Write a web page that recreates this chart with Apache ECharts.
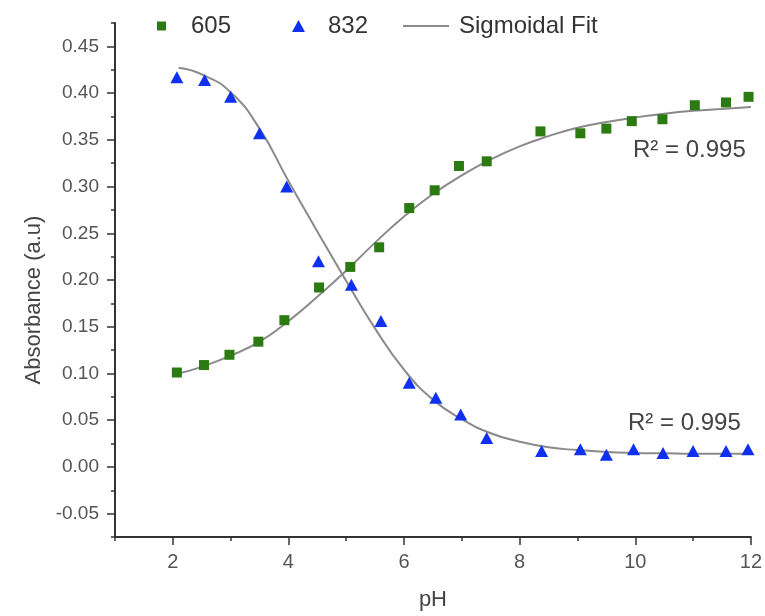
<!DOCTYPE html>
<html><head><meta charset="utf-8">
<script src="https://cdn.jsdelivr.net/npm/echarts@6/dist/echarts.min.js"></script>
<style>html,body{margin:0;padding:0;background:#fff}#c{width:765px;height:616px}</style>
</head><body><div id="c"></div>
<script>
// measured data (pH vs absorbance)
const pH605  = [2.07,2.54,2.98,3.48,3.93,4.53,5.07,5.57,6.09,6.53,6.95,7.43,8.36,9.05,9.50,9.94,10.47,11.03,11.57,11.96];
const abs605 = [0.101,0.109,0.120,0.134,0.157,0.192,0.214,0.235,0.277,0.296,0.322,0.327,0.359,0.357,0.362,0.370,0.372,0.387,0.390,0.396];
const pH832  = [2.07,2.55,3.00,3.50,3.97,4.52,5.09,5.60,6.09,6.55,6.98,7.43,8.38,9.05,9.50,9.97,10.48,11.00,11.57,11.95];
const abs832 = [0.417,0.414,0.396,0.357,0.300,0.220,0.195,0.156,0.090,0.074,0.056,0.031,0.017,0.019,0.013,0.019,0.015,0.017,0.017,0.019];
// fitted sigmoidal curves
const fit605X = [2.1,2.5,3,3.5,4,4.5,5,5.5,6,6.5,7,7.5,8,8.5,9,9.5,10,10.5,11,11.5,12];
const fit605Y = [0.100,0.107,0.119,0.134,0.156,0.182,0.210,0.240,0.268,0.292,0.312,0.329,0.343,0.354,0.363,0.369,0.374,0.378,0.381,0.383,0.385];
const fit832X = [2.1,2.5,3,3.5,4,4.5,5,5.5,6,6.5,7,7.5,8,8.5,9,9.5,10,10.5,11,11.5,12];
const fit832Y = [0.427,0.420,0.401,0.362,0.306,0.252,0.199,0.148,0.104,0.072,0.051,0.036,0.027,0.021,0.018,0.016,0.015,0.0145,0.014,0.014,0.014];
// tick labels
const yMajorTicks = [-0.05,0.00,0.05,0.10,0.15,0.20,0.25,0.30,0.35,0.40,0.45];
const xMajorTicks = [2,4,6,8,10,12];
const r2Label = 'R\u00B2 = 0.995';

const zip = (a,b) => a.map((v,i)=>[v,b[i]]);
const FONT = 'Liberation Sans, Arial, sans-serif';
const axisCol = '#333';
const chart = echarts.init(document.getElementById('c'), null, {renderer:'canvas'});
chart.setOption({
  animation:false,
  backgroundColor:'#fff',
  grid:{left:115, right:12, top:23, bottom:76, containLabel:false},
  legend:[
    {left:152, top:9, data:['605'], itemWidth:9, itemHeight:9, textStyle:{fontFamily:FONT,fontSize:24,color:'#333',padding:[0,0,0,20]}},
    {left:287, top:9, data:['832'], itemWidth:13, itemHeight:12, textStyle:{fontFamily:FONT,fontSize:24,color:'#333',padding:[0,0,0,18]}},
    {left:398, top:9, data:[{name:'Sigmoidal Fit', icon:'rect', itemStyle:{color:'#8a8a8a'}}], itemWidth:46, itemHeight:2, textStyle:{fontFamily:FONT,fontSize:24,color:'#333',padding:[0,0,0,5]}}
  ],
  xAxis:[
    {type:'value', min:1, max:12, interval:1, position:'bottom',
     axisLine:{show:true, onZero:false, lineStyle:{color:axisCol,width:2}},
     axisTick:{show:true, length:4, lineStyle:{color:axisCol,width:1.5}},
     axisLabel:{show:false}, splitLine:{show:false}},
    {type:'value', min:1, max:12, position:'bottom',
     axisLine:{show:false, onZero:false},
     axisTick:{show:true, length:8, customValues:xMajorTicks, lineStyle:{color:axisCol,width:1.5}},
     axisLabel:{show:true, customValues:xMajorTicks, margin:15, fontFamily:FONT, fontSize:20, color:'#555'},
     splitLine:{show:false},
     name:'pH', nameLocation:'middle', nameGap:52, nameTextStyle:{fontFamily:FONT,fontSize:22,color:'#444'}}
  ],
  yAxis:[
    {type:'value', min:-0.075, max:0.475, interval:0.025, position:'left',
     axisLine:{show:true, onZero:false, lineStyle:{color:axisCol,width:2}},
     axisTick:{show:true, length:4, lineStyle:{color:axisCol,width:1.5}},
     axisLabel:{show:false}, splitLine:{show:false}},
    {type:'value', min:-0.075, max:0.475, position:'left',
     axisLine:{show:false, onZero:false},
     axisTick:{show:true, length:8, customValues:yMajorTicks, lineStyle:{color:axisCol,width:1.5}},
     axisLabel:{show:true, customValues:yMajorTicks, margin:16, fontFamily:FONT, fontSize:19, color:'#555', formatter:v=>v.toFixed(2)},
     splitLine:{show:false},
     name:'Absorbance (a.u)', nameLocation:'middle', nameGap:66, nameTextStyle:{fontFamily:FONT,fontSize:22,color:'#444',padding:[0,40,0,0]}}
  ],
  series:[
    {name:'Sigmoidal Fit', type:'line', data:zip(fit605X,fit605Y), smooth:true, symbol:'none', lineStyle:{color:'#8a8a8a',width:2}, itemStyle:{color:'#8a8a8a'}, z:1},
    {name:'Sigmoidal Fit', type:'line', data:zip(fit832X,fit832Y), smooth:true, symbol:'none', lineStyle:{color:'#8a8a8a',width:2}, itemStyle:{color:'#8a8a8a'}, z:1},
    {name:'605', type:'scatter', data:zip(pH605,abs605), symbol:'rect', symbolSize:10, itemStyle:{color:'#2b7a12', opacity:1}, z:3},
    {name:'832', type:'scatter', data:zip(pH832,abs832), symbol:'triangle', symbolSize:[13,12], itemStyle:{color:'#1030f0', opacity:1}, z:3}
  ],
  graphic:[
    {type:'text', left:633, top:138, style:{text:r2Label, fontFamily:FONT, fontSize:24, fill:'#444'}},
    {type:'text', left:628, top:411, style:{text:r2Label, fontFamily:FONT, fontSize:24, fill:'#444'}}
  ]
});
</script></body></html>
